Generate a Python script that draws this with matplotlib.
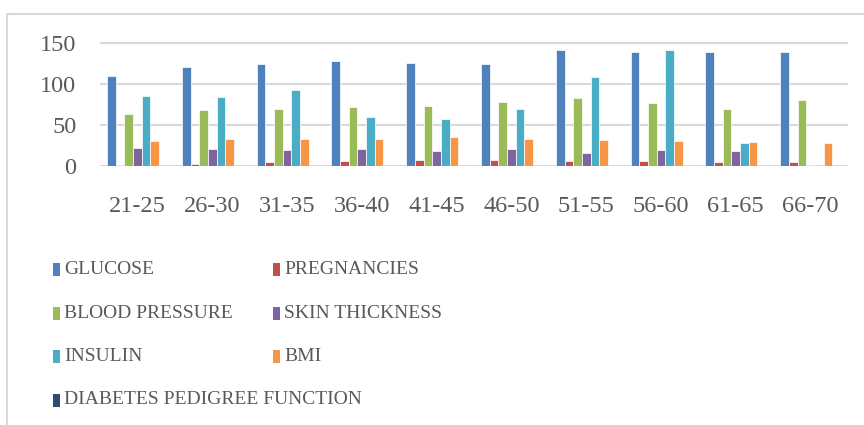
import matplotlib
matplotlib.use('Agg')
import matplotlib.pyplot as plt
from matplotlib.patches import Rectangle
import numpy as np

# age groups and the mean of each attribute
age_groups = ['21-25', '26-30', '31-35', '36-40', '41-45',
              '46-50', '51-55', '56-60', '61-65', '66-70']
glucose = [110, 120, 124, 128, 125, 124, 141, 139, 139, 139]
pregnancies = [1.0, 2.4, 4.5, 5.7, 6.6, 7.0, 5.7, 6.1, 4.0, 4.5]
blood_pressure = [63, 68, 69, 72, 73, 78, 82, 76.5, 69, 80.5]
skin_thickness = [21.6, 20.8, 19.5, 20.4, 17.9, 20.4, 15.5, 18.8, 17.9, 0.8]
insulin = [84.6, 83.8, 92.3, 59.4, 57.0, 69.1, 108.5, 141.5, 27.7, 0]
bmi = [29.7, 32.6, 32.6, 32.6, 35.0, 32.6, 31.3, 30.1, 28.9, 27.3]
dpf = [0.45, 0.5, 0.5, 0.55, 0.5, 0.55, 0.5, 0.5, 0.5, 0.5]

series = [glucose, pregnancies, blood_pressure, skin_thickness, insulin, bmi, dpf]
names = ['GLUCOSE', 'PREGNANCIES', 'BLOOD PRESSURE', 'SKIN THICKNESS',
         'INSULIN', 'BMI', 'DIABETES PEDIGREE FUNCTION']
colors = ['#4F81BD', '#C0504D', '#9BBB59', '#8064A2', '#4BACC6', '#F79646', '#2C4D75']

W, H = 864, 425
txt = '#595959'
grid = '#d9d9d9'
plt.rcParams['font.family'] = ['Liberation Serif', 'DejaVu Serif']

fig = plt.figure(figsize=(W / 100, H / 100), dpi=100)

# outer chart border (only left and top show)
fig.add_artist(Rectangle((7 / W, -0.5), 2, 0.5 + 1 - 14 / H, transform=fig.transFigure,
                         fill=False, ec=grid, lw=1.5))

ppu = 123 / 150  # pixels per unit
y0 = 165.7
ymax = 152
ax = fig.add_axes([100 / W, 1 - y0 / H, 748 / W, ymax * ppu / H])

x = np.arange(len(age_groups))
step = 0.116
for i, (vals, c) in enumerate(zip(series, colors)):
    ax.bar(x + (i - 3) * step, vals, width=step, color=c, edgecolor='white',
           linewidth=0.5, zorder=3)

ax.set_xlim(-0.5, len(age_groups) - 0.5)
ax.set_ylim(0, ymax)
ax.set_yticks([0, 50, 100, 150])
ax.set_xticks(x)
ax.set_xticklabels(age_groups)
ax.yaxis.grid(True, color=grid, lw=1.5, zorder=0)
ax.set_axisbelow(True)
for s in ax.spines.values():
    s.set_visible(False)
ax.tick_params(axis='y', length=0, pad=17, labelsize=17.5, labelcolor=txt)
ax.tick_params(axis='x', length=0, pad=22, labelsize=17.5, labelcolor=txt)

# legend laid out in two columns, like the original
rows_y = [269.5, 313, 356.5, 400]
cols_x = [52.7, 272.7]
for k in range(len(names)):
    r, col = k // 2, k % 2
    yc = rows_y[r]
    xm = cols_x[col]
    fig.add_artist(Rectangle((xm / W, 1 - (yc + 6.5) / H), 7.5 / W, 13 / H,
                             transform=fig.transFigure, color=colors[k], lw=0))
    fig.text((xm + 11.5) / W, 1 - yc / H, names[k], ha='left', va='center',
             fontsize=14, color=txt)

fig.savefig('out.png', dpi=100)
